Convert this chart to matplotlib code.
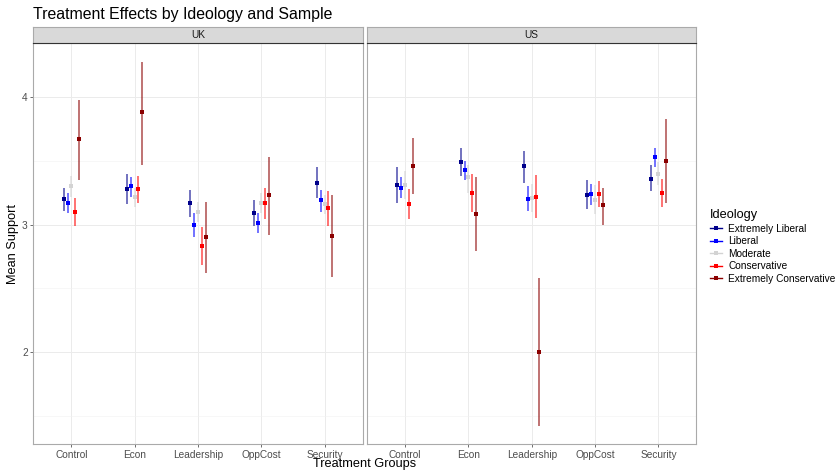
import numpy as np
import matplotlib
matplotlib.use("Agg")
import matplotlib.pyplot as plt
from matplotlib.lines import Line2D

plt.rcParams["font.family"] = ["Liberation Sans", "DejaVu Sans"]

treatments = ["Control", "Econ", "Leadership", "OppCost", "Security"]
ideologies = ["Extremely Liberal", "Liberal", "Moderate", "Conservative",
              "Extremely Conservative"]
colors = ["#00008B", "#0000FF", "#D3D3D3", "#FF0000", "#8B0000"]
samples = ["UK", "US"]

# rows = ideology, columns = treatment
uk_mean = [[3.20, 3.28, 3.17, 3.09, 3.33],
           [3.17, 3.30, 3.00, 3.01, 3.19],
           [3.30, 3.22, 3.10, 3.17, 3.16],
           [3.10, 3.28, 2.83, 3.17, 3.13],
           [3.67, 3.88, 2.90, 3.23, 2.91]]
uk_low = [[3.11, 3.16, 3.06, 2.99, 3.21],
          [3.09, 3.22, 2.90, 2.93, 3.10],
          [3.22, 3.14, 3.02, 3.09, 3.08],
          [2.99, 3.17, 2.68, 3.04, 2.99],
          [3.35, 3.47, 2.62, 2.92, 2.59]]
uk_high = [[3.29, 3.40, 3.27, 3.19, 3.45],
           [3.25, 3.37, 3.09, 3.09, 3.27],
           [3.38, 3.29, 3.18, 3.25, 3.23],
           [3.21, 3.38, 2.98, 3.29, 3.26],
           [3.98, 4.28, 3.18, 3.53, 3.23]]

us_mean = [[3.31, 3.49, 3.46, 3.23, 3.36],
           [3.29, 3.43, 3.20, 3.24, 3.53],
           [3.31, 3.37, 3.21, 3.19, 3.40],
           [3.16, 3.25, 3.22, 3.24, 3.25],
           [3.46, 3.08, 2.00, 3.15, 3.50]]
us_low = [[3.17, 3.38, 3.33, 3.12, 3.26],
          [3.21, 3.35, 3.11, 3.15, 3.45],
          [3.20, 3.25, 3.10, 3.08, 3.31],
          [3.04, 3.10, 3.05, 3.14, 3.14],
          [3.24, 2.79, 1.42, 3.00, 3.17]]
us_high = [[3.45, 3.60, 3.58, 3.35, 3.47],
           [3.37, 3.50, 3.30, 3.32, 3.60],
           [3.42, 3.47, 3.32, 3.31, 3.49],
           [3.28, 3.40, 3.39, 3.34, 3.36],
           [3.68, 3.37, 2.58, 3.29, 3.83]]

data = {"UK": (uk_mean, uk_low, uk_high), "US": (us_mean, us_low, us_high)}

all_low = np.min([np.min(uk_low), np.min(us_low)])
all_high = np.max([np.max(uk_high), np.max(us_high)])
pad = 0.05 * (all_high - all_low)
ylim = (all_low - pad, all_high + pad)

fig = plt.figure(figsize=(8.37, 4.71), dpi=100)

panel_bottom = 1 - 444 / 471
panel_height = (444 - 43.3) / 471
panel_width = (362.7 - 33.3) / 837
strip_height = 16 / 471
lefts = [33.3 / 837, 367 / 837]

x = np.arange(1, len(treatments) + 1)
dodge = 0.3 / len(ideologies)

for k, sample in enumerate(samples):
    ax = fig.add_axes([lefts[k], panel_bottom, panel_width, panel_height])
    mean, low, high = data[sample]
    for i, (name, col) in enumerate(zip(ideologies, colors)):
        xi = x + (i - 2) * dodge
        m = np.array(mean[i])
        lo = np.array(low[i])
        hi = np.array(high[i])
        ax.vlines(xi, lo, hi, color=col, linewidth=1.1, alpha=0.7, zorder=3)
        ax.plot(xi, m, "s", color=col, markersize=2.6, markeredgewidth=0,
                linestyle="none", zorder=4)

    ax.set_xlim(0.4, 5.6)
    ax.set_ylim(*ylim)
    ax.set_xticks(x)
    ax.set_xticklabels(treatments)
    ax.set_yticks([2, 3, 4])
    ax.set_yticks([1.5, 2.5, 3.5], minor=True)
    ax.grid(True, which="major", color="#EBEBEB", linewidth=0.7, zorder=0)
    ax.grid(True, which="minor", axis="y", color="#F2F2F2", linewidth=0.4, zorder=0)
    ax.set_axisbelow(True)
    ax.tick_params(axis="both", which="major", labelsize=7.3, labelcolor="#4D4D4D",
                   color="#333333", length=2.5, width=0.5, pad=1.5)
    ax.tick_params(axis="y", which="minor", length=0)
    for sp in ax.spines.values():
        sp.set_color("#AAAAAA")
        sp.set_linewidth(0.8)
    if k == 0:
        ax.set_ylabel("Mean Support", fontsize=9.2, labelpad=2)
    else:
        ax.tick_params(axis="y", which="both", left=False, labelleft=False)

    # facet strip
    sax = fig.add_axes([lefts[k], panel_bottom + panel_height, panel_width, strip_height])
    sax.set_facecolor("#D9D9D9")
    sax.set_xticks([])
    sax.set_yticks([])
    for sp in sax.spines.values():
        sp.set_color("#AAAAAA")
        sp.set_linewidth(0.8)
    sax.spines["bottom"].set_color("#333333")
    sax.text(0.5, 0.5, sample, ha="center", va="center", fontsize=7.3,
             color="#1A1A1A", transform=sax.transAxes)

fig.text(365 / 837, 1 - 464 / 471, "Treatment Groups", ha="center", va="center",
         fontsize=9.2)
fig.text(33 / 837, 1 - 15 / 471, "Treatment Effects by Ideology and Sample",
         ha="left", va="center", fontsize=11.4)

handles = [Line2D([0], [0], color=c, marker="s", markersize=2.6,
                  markeredgewidth=0, linewidth=1.0)
           for c in colors]
leg = fig.legend(handles, ideologies, loc="upper left",
                 bbox_to_anchor=(708 / 837, 1 - 207 / 471), frameon=False,
                 fontsize=7.3, title="Ideology", title_fontsize=9.2,
                 handlelength=1.2, handletextpad=0.6, labelspacing=0.25,
                 alignment="left", borderaxespad=0, borderpad=0.2)

fig.savefig("out.png", dpi=100)
